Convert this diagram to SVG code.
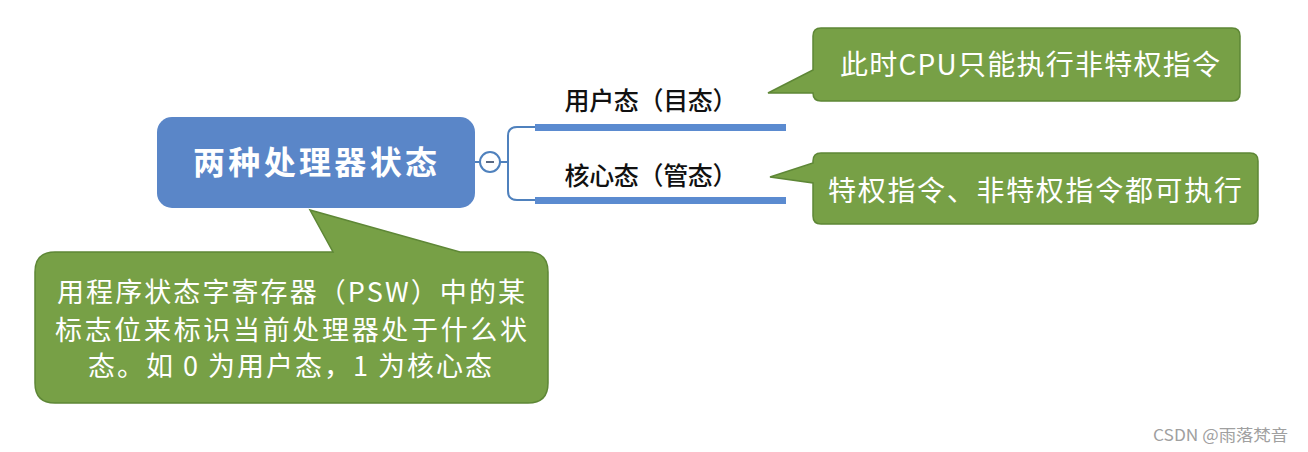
<svg xmlns="http://www.w3.org/2000/svg" width="1308" height="452" viewBox="0 0 1308 452">
  <style>
    .cjk { font-family: "Noto Sans CJK SC", "Noto Sans", "Liberation Sans", sans-serif; }
    .callout { fill: #77A046; stroke: #5E8736; stroke-width: 1.5; }
    .ctext { fill: #ffffff; font-size: 28px; text-anchor: middle; }
    .btext { fill: #ffffff; font-size: 27px; text-anchor: middle; }
    .label { fill: #111111; font-size: 25px; text-anchor: middle; font-weight: 500; }
    .bar { fill: #5B8BD0; }
    .thin { fill: none; stroke: #4F81BD; stroke-width: 2; }
  </style>
  <rect width="1308" height="452" fill="#ffffff"/>

  <g id="connectors">
    <line class="thin" x1="475" y1="162" x2="480" y2="162"/>
    <line class="thin" x1="500" y1="162" x2="508" y2="162"/>
    <path class="thin" d="M535,127 H517 Q508,127 508,136 V191 Q508,200 517,200 H535"/>
    <rect class="bar" x="535" y="124" width="251" height="7"/>
    <rect class="bar" x="535" y="197" width="251" height="7"/>
  </g>

  <g id="note-psw">
    <path class="callout" d="M55,252 H333 L310,210 L460,252 H528 Q548,252 548,272 V383 Q548,403 528,403 H55 Q35,403 35,383 V272 Q35,252 55,252 Z"/>
    <text class="cjk btext" x="291" y="302" textLength="468" lengthAdjust="spacing">用程序状态字寄存器（PSW）中的某</text>
    <text class="cjk btext" x="291" y="340" textLength="472" lengthAdjust="spacing">标志位来标识当前处理器处于什么状</text>
    <text class="cjk btext" x="290" y="376" textLength="404" lengthAdjust="spacing">态。如 0 为用户态，1 为核心态</text>
  </g>

  <g id="root">
    <rect x="157" y="117" width="318" height="91" rx="15" ry="15" fill="#5A86C8"/>
    <text class="cjk" x="315" y="174" font-size="32" font-weight="bold" fill="#ffffff" text-anchor="middle" textLength="244" lengthAdjust="spacing">两种处理器状态</text>
  </g>

  <g id="collapse">
    <circle cx="490" cy="162" r="10" fill="#ffffff" stroke="#4F81BD" stroke-width="2"/>
    <line x1="486" y1="162" x2="494" y2="162" stroke="#5A6A85" stroke-width="2"/>
  </g>

  <g id="user-mode">
    <text class="cjk label" x="651" y="110" textLength="173" lengthAdjust="spacing">用户态（目态）</text>
  </g>

  <g id="kernel-mode">
    <text class="cjk label" x="651" y="185" textLength="173" lengthAdjust="spacing">核心态（管态）</text>
  </g>

  <g id="note-user">
    <path class="callout" d="M821,28 H1232 Q1240,28 1240,36 V93 Q1240,101 1232,101 H821 Q813,101 813,93 L768,93 L813,70 V36 Q813,28 821,28 Z"/>
    <text class="cjk ctext" x="1030" y="75" textLength="380" lengthAdjust="spacing">此时CPU只能执行非特权指令</text>
  </g>

  <g id="note-kernel">
    <path class="callout" d="M821,153 H1250 Q1258,153 1258,161 V216 Q1258,224 1250,224 H821 Q813,224 813,216 V183 L770,177 L813,163 V161 Q813,153 821,153 Z"/>
    <text class="cjk ctext" x="1035" y="201" textLength="414" lengthAdjust="spacing">特权指令、非特权指令都可执行</text>
  </g>

  <text class="cjk" x="1153" y="441" font-size="16" fill="#a0a0a0" textLength="135" lengthAdjust="spacingAndGlyphs">CSDN @雨落梵音</text>
</svg>
